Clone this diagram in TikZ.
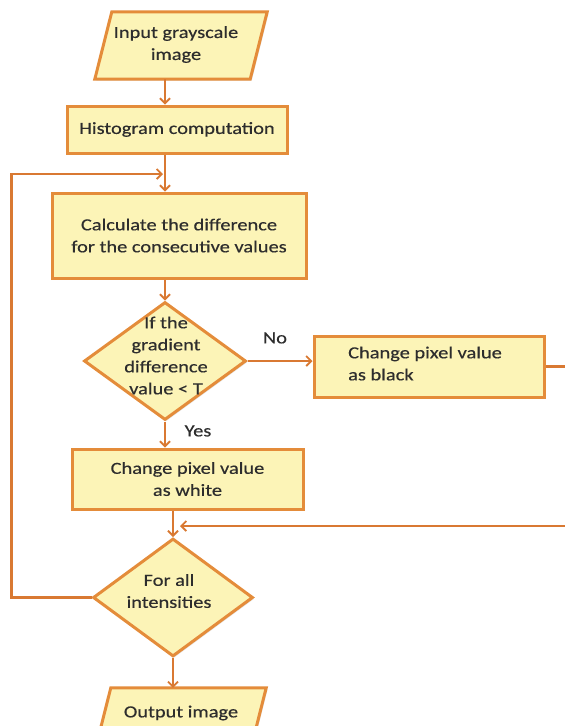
\documentclass[tikz,border=0pt]{standalone}
\usepackage{fontspec}
\setmainfont{Carlito}[FakeStretch=1.2,FakeBold=0.4]
\usetikzlibrary{arrows.meta,shapes.geometric,shadows,backgrounds}
\definecolor{boxfill}{RGB}{252,244,183}
\definecolor{boxdraw}{RGB}{228,140,58}
\definecolor{linec}{RGB}{217,121,50}
\definecolor{txt}{RGB}{45,45,45}
\begin{document}
\begin{tikzpicture}[x=1pt,y=-1pt,
  every node/.style={font=\fontsize{17}{22}\selectfont, text=txt},
  shade/.style={drop shadow={shadow xshift=1.5pt, shadow yshift=-1.5pt, opacity=0.2, fill=gray}},
  procbox/.style={draw=boxdraw, fill=boxfill, line width=3pt, inner sep=0, shade},
  iobox/.style={inner sep=0, align=center},
  decbox/.style={procbox, diamond},
  plain/.style={inner sep=0, align=center},
  arr/.style={draw=linec, line width=2.2pt, -{Straight Barb[length=5pt,width=10pt,line width=1.8pt]}},
  ln/.style={draw=linec, line width=2.2pt}
]
\useasboundingbox (0,0) rectangle (565,726);

% nodes
\node[iobox, minimum width=155, minimum height=67] (in) at (181,45.5) {};
\node[plain] (intxt) at (176,44.5) {Input grayscale\\image};

\node[procbox, minimum width=220, minimum height=47, align=center] (hist) at (177,129.5) {Histogram computation};

\node[procbox, minimum width=254, minimum height=85, align=center] (calc) at (179,235.5) {Calculate the difference\\for the consecutive values};

\node[decbox, minimum width=162, minimum height=118] (d1) at (165,361) {};
\node[plain] (d1t) at (166,355.5) {If the\\gradient\\difference\\value < T};

\node[procbox, minimum width=230, minimum height=61] (black) at (429,366.5) {};
\node[plain, align=left, anchor=west] (blackt) at (348,363.5) {Change pixel value\\as black};

\node[procbox, minimum width=231, minimum height=60, align=center] (white) at (187.5,479) {Change pixel value\\as white};

\node[decbox, minimum width=160, minimum height=118] (d2) at (173,597.5) {};
\node[plain] (d2t) at (169,591) {For all\\intensities};

\node[iobox, minimum width=155, minimum height=67] (out) at (180,721.5) {};
\node[plain] (outt) at (181,713) {Output image};

\begin{pgfonlayer}{background}
\path[procbox] ([xshift=8.5]in.north west) -- ([xshift=8.5]in.north east) -- ([xshift=-8.5]in.south east) -- ([xshift=-8.5]in.south west) -- cycle;
\path[procbox] ([xshift=8.5]out.north west) -- ([xshift=8.5]out.north east) -- ([xshift=-8.5]out.south east) -- ([xshift=-8.5]out.south west) -- cycle;
\end{pgfonlayer}

\node[plain] (no) at (275,338) {No};
\node[plain] (yes) at (198,431) {Yes};

\coordinate (j) at (165,174);
\coordinate (m) at (173,526);
\coordinate (r1) at (572,366.5);
\coordinate (r2) at (572,526);

% connectors
\draw[arr] (in.south -| d1.north) -- (hist.north -| d1.north);
\draw[arr] (hist.south -| d1.north) -- (calc.north -| d1.north);
\draw[arr] (calc.south -| d1.north) -- (d1.north);
\draw[arr] (d1.east) -- (d1.east -| black.west);
\draw[arr] (d1.south) -- (white.north -| d1.south);
\draw[arr] (white.south -| d2.north) -- (d2.north);
\draw[ln] (black.east) -- (r1) -- (r2);
\draw[arr] (r2) -- ([xshift=7]m);
\draw[arr] (d2.west) -- ++(-80,0) |- ([xshift=-2]j);
\draw[arr] (d2.south) -- (out.north -| d2.south);
\end{tikzpicture}
\end{document}
